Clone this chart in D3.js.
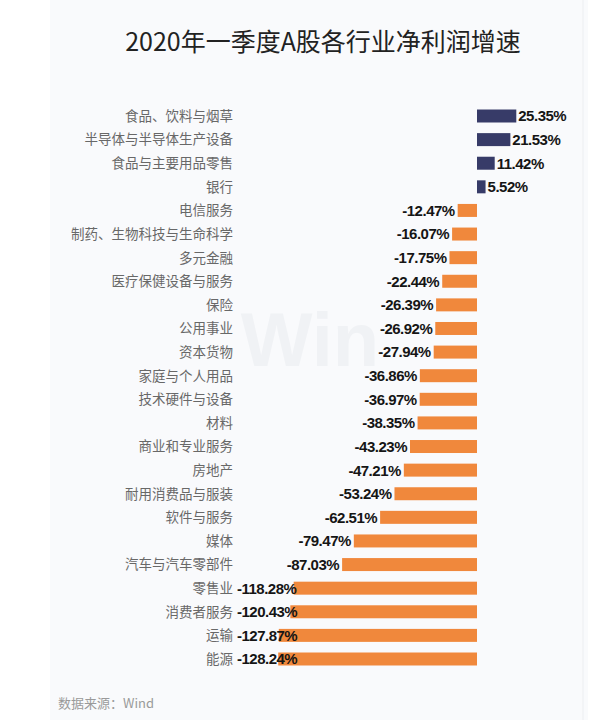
<!DOCTYPE html>
<html>
<head>
<meta charset="utf-8">
<script src="https://cdn.jsdelivr.net/npm/d3@7"></script>
<style>
  html, body { margin: 0; padding: 0; background: #ffffff; }
  svg { display: block; }
</style>
</head>
<body>
<svg id="chart" width="616" height="720"></svg>
<script>
const title = "2020年一季度A股各行业净利润增速";
const source = "数据来源：Wind";
const categories = [
  "食品、饮料与烟草", "半导体与半导体生产设备", "食品与主要用品零售", "银行",
  "电信服务", "制药、生物科技与生命科学", "多元金融", "医疗保健设备与服务",
  "保险", "公用事业", "资本货物", "家庭与个人用品",
  "技术硬件与设备", "材料", "商业和专业服务", "房地产",
  "耐用消费品与服装", "软件与服务", "媒体", "汽车与汽车零部件",
  "零售业", "消费者服务", "运输", "能源"
];
const growth = [
  25.35, 21.53, 11.42, 5.52,
  -12.47, -16.07, -17.75, -22.44,
  -26.39, -26.92, -27.94, -36.86,
  -36.97, -38.35, -43.23, -47.21,
  -53.24, -62.51, -79.47, -87.03,
  -118.28, -120.43, -127.87, -128.24
];

const svg = d3.select("#chart");

// panel background
svg.append("rect").attr("x", 50).attr("y", 0).attr("width", 538).attr("height", 720)
  .attr("fill", "#f9fafc");
svg.append("line").attr("x1", 583).attr("x2", 583).attr("y1", 0).attr("y2", 720)
  .attr("stroke", "#eceef1").attr("stroke-width", 1);

// watermark
svg.append("text").attr("x", 310).attr("y", 366).attr("text-anchor", "middle")
  .attr("font-family", "Liberation Sans, Arial, sans-serif").attr("font-weight", "bold")
  .attr("font-size", 76).attr("fill", "#f0f2f5").text("Win");

// title
svg.append("text").attr("x", 323).attr("y", 51).attr("text-anchor", "middle")
  .attr("font-family", "Noto Sans CJK SC, sans-serif").attr("font-size", 25)
  .attr("fill", "#222").text(title);

const x = d3.scaleLinear().domain([-130, 30]).range([275.5, 523.5]);
const y = d3.scaleBand().domain(categories).range([104.2, 670.8]).paddingInner(0.45).paddingOuter(0.225);

const rows = categories.map((c, i) => ({ c, v: growth[i] }));
const fmt = d3.formatLocale({ decimal: ".", thousands: ",", grouping: [3], currency: ["", ""], minus: "-" }).format(".2f");

// bars
svg.append("g").selectAll("rect").data(rows).join("rect")
  .attr("x", d => x(Math.min(0, d.v)))
  .attr("width", d => Math.abs(x(d.v) - x(0)))
  .attr("y", d => y(d.c))
  .attr("height", y.bandwidth())
  .attr("fill", d => d.v >= 0 ? "#373b68" : "#f0883c");

// category labels
svg.append("g").selectAll("text").data(rows).join("text")
  .attr("x", 233)
  .attr("y", d => y(d.c) + y.bandwidth() / 2)
  .attr("dy", "0.36em")
  .attr("text-anchor", "end")
  .attr("font-family", "Noto Sans CJK SC, sans-serif")
  .attr("font-size", 13.5)
  .attr("fill", "#686868")
  .text(d => d.c);

// value labels
const vl = svg.append("g").selectAll("text").data(rows).join("text")
  .attr("y", d => y(d.c) + y.bandwidth() / 2)
  .attr("dy", "0.36em")
  .attr("font-family", "Liberation Sans, Arial, sans-serif")
  .attr("font-weight", "bold")
  .attr("font-size", 15)
  .attr("letter-spacing", -0.5)
  .attr("fill", "#151515")
  .text(d => fmt(d.v) + "%");

vl.each(function(d) {
  const t = d3.select(this);
  if (d.v >= 0) {
    t.attr("x", x(d.v) + 2).attr("text-anchor", "start");
  } else {
    const w = this.getComputedTextLength();
    const end = Math.max(x(d.v) - 3, 237 + w);
    t.attr("x", end).attr("text-anchor", "end");
  }
});

// source
svg.append("text").attr("x", 58).attr("y", 708)
  .attr("font-family", "Noto Sans CJK SC, sans-serif").attr("font-size", 13)
  .attr("fill", "#9a9a9a").text(source);
</script>
</body>
</html>
